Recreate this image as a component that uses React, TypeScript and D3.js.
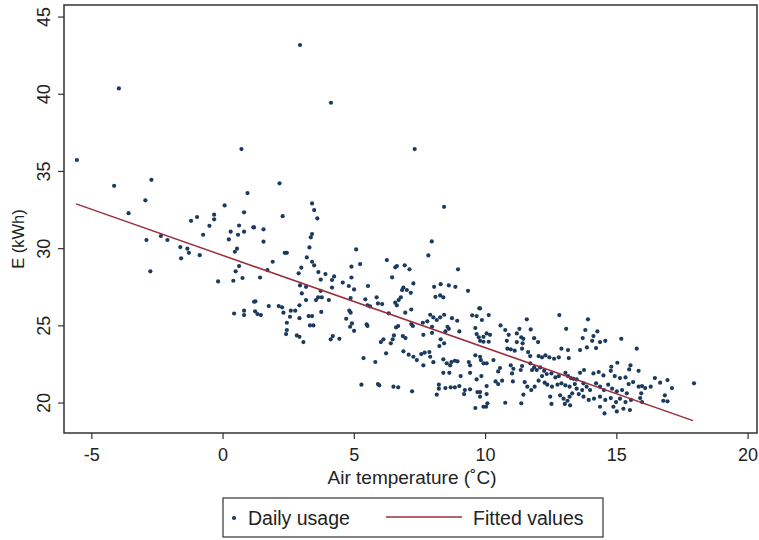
import React from "react";
import * as d3 from "d3";

// Daily usage: [air temperature (°C), E (kWh)]
const dailyUsage: [number, number][] = [
  [-3.97, 40.38], [-5.57, 35.74], [0.7, 36.45], [-4.15, 34.07], [-2.73, 34.46], [-2.96, 33.13],
  [0.93, 33.6], [-3.6, 32.3], [0.06, 32.8], [0.8, 32.35], [-0.34, 32.2], [-0.34, 31.9],
  [-0.99, 32.05], [-1.22, 31.8], [-0.52, 31.48], [0.61, 31.5], [0.29, 31.1], [0.57, 30.9],
  [0.8, 31.1], [1.15, 31.38], [-0.76, 30.9], [0.22, 30.6], [-2.92, 30.56], [-2.37, 30.82],
  [-2.12, 30.56], [-1.63, 30.1], [-1.36, 30.0], [-1.3, 29.73], [-1.6, 29.37], [-0.89, 29.58],
  [0.53, 30.0], [0.45, 29.8], [0.61, 28.87], [0.48, 28.53], [-2.77, 28.53], [-0.19, 27.88],
  [0.39, 27.92], [0.74, 28.1], [0.42, 25.8], [0.8, 25.98], [0.8, 25.7], [1.18, 26.56],
  [2.15, 34.23], [3.39, 32.93], [3.47, 32.5], [3.59, 31.96], [2.27, 32.1], [1.18, 31.38],
  [1.54, 31.25], [1.54, 30.45], [3.39, 30.95], [3.34, 30.73], [3.29, 30.08], [5.07, 29.95],
  [2.35, 29.73], [2.43, 29.73], [3.19, 29.43], [1.89, 29.15], [3.39, 29.15], [3.47, 28.92],
  [5.22, 29.0], [2.98, 28.77], [4.89, 28.83], [1.69, 28.61], [3.63, 28.48], [3.9, 28.35],
  [4.23, 28.2], [2.88, 28.4], [1.41, 28.13], [4.89, 28.13], [3.72, 28.0], [4.15, 27.97],
  [4.56, 27.8], [4.79, 27.58], [4.99, 27.36], [2.93, 27.62], [3.16, 27.53], [4.15, 27.48],
  [3.72, 27.27], [5.52, 27.58], [3.0, 27.1], [3.62, 26.85], [3.76, 26.85], [3.54, 26.67],
  [4.86, 26.8], [3.16, 26.67], [4.03, 26.67], [5.42, 26.72], [5.5, 26.33], [1.23, 26.59],
  [1.74, 26.28], [2.12, 26.28], [2.25, 26.2], [2.91, 26.33], [1.22, 25.94], [1.31, 25.76],
  [1.44, 25.7], [2.3, 25.85], [2.58, 25.98], [2.75, 25.98], [3.74, 25.9], [4.81, 25.98],
  [4.86, 25.85], [2.55, 25.59], [2.91, 25.5], [3.26, 25.63], [3.39, 25.63], [4.69, 25.46],
  [2.43, 25.2], [4.91, 25.16], [4.84, 24.94], [4.99, 24.68], [3.31, 25.03], [3.44, 25.03],
  [5.47, 25.1], [5.5, 24.99], [2.43, 24.73], [2.4, 24.47], [2.81, 24.38], [2.91, 24.29],
  [3.06, 23.95], [4.18, 24.34], [4.1, 24.13], [4.43, 24.16], [5.35, 22.91], [5.27, 21.19],
  [2.93, 43.19], [4.11, 39.45], [7.3, 36.45],
  [8.42, 32.71], [7.95, 30.47], [7.82, 29.56], [6.24, 29.26], [6.56, 28.79], [6.62, 28.87],
  [6.92, 28.92], [7.1, 28.66], [8.95, 28.66], [6.44, 28.14], [8.04, 27.53], [8.29, 27.7],
  [8.6, 27.62], [8.85, 27.53], [9.33, 27.27], [7.25, 27.75], [6.87, 27.48], [7.0, 27.32],
  [6.82, 27.32], [7.15, 27.14], [8.09, 26.88], [8.27, 26.97], [8.39, 26.85], [6.77, 26.85],
  [6.69, 26.67], [6.56, 26.5], [6.62, 26.33], [5.85, 26.85], [5.9, 26.45], [6.06, 26.41],
  [5.6, 26.26], [7.17, 26.06], [6.94, 25.85], [9.76, 26.14], [6.31, 25.81], [7.89, 25.72],
  [8.01, 25.55], [8.14, 25.38], [8.42, 25.72], [8.27, 25.55], [8.72, 25.5], [8.92, 25.33],
  [9.49, 25.68], [9.66, 25.63], [7.61, 25.2], [7.78, 25.29], [6.67, 24.99], [6.59, 24.9],
  [7.17, 25.12], [7.23, 24.99], [7.96, 24.94], [7.96, 24.55], [8.55, 24.94], [8.6, 24.81],
  [8.47, 24.64], [9.0, 24.64], [9.61, 24.86], [9.66, 24.47], [9.74, 24.26], [9.92, 24.29],
  [7.63, 24.42], [6.51, 24.38], [6.46, 24.13], [6.39, 23.87], [6.11, 24.13], [6.01, 23.95],
  [6.85, 24.34], [6.95, 24.21], [8.29, 24.13], [8.24, 23.69], [8.42, 23.87], [6.21, 23.22],
  [6.87, 23.35], [7.07, 23.13], [7.25, 23.0], [7.38, 22.78], [7.55, 23.17], [7.68, 23.26],
  [7.86, 23.3], [7.89, 23.0], [8.01, 22.65], [7.63, 22.44], [8.39, 22.83], [8.52, 22.57],
  [8.7, 22.66], [8.83, 22.74], [8.93, 22.7], [8.65, 22.44], [9.36, 22.66], [9.41, 22.44],
  [9.61, 23.09], [9.82, 22.78], [5.8, 22.66], [8.39, 21.96], [8.62, 21.96], [9.05, 21.75],
  [9.41, 21.96], [9.66, 21.53], [5.9, 21.23], [5.95, 21.15], [6.49, 21.06], [6.67, 21.02],
  [7.2, 20.76], [8.22, 21.19], [8.22, 20.93], [8.47, 20.97], [8.67, 21.02], [8.83, 21.02],
  [9.0, 21.1], [9.21, 20.84], [9.41, 20.89], [8.14, 20.54], [9.18, 20.58], [9.69, 20.71],
  [9.79, 20.41], [9.61, 19.68], [9.92, 19.76],
  [10.12, 25.7], [9.79, 26.13], [9.86, 25.38], [11.57, 25.42], [12.81, 25.7], [10.57, 25.03],
  [10.75, 24.73], [10.88, 24.42], [11.29, 24.81], [11.19, 24.51], [11.36, 24.26], [11.72, 24.77],
  [13.07, 24.81], [10.04, 24.51], [10.17, 24.42], [9.79, 24.03], [9.92, 23.97], [10.12, 23.97],
  [10.81, 24.03], [11.19, 23.95], [11.44, 24.16], [11.41, 23.87], [11.85, 24.2], [12.0, 23.95],
  [10.83, 23.52], [10.96, 23.48], [11.11, 23.39], [11.39, 23.52], [11.62, 23.3], [11.7, 23.04],
  [12.02, 23.04], [12.15, 22.96], [12.28, 23.09], [12.43, 22.96], [12.61, 22.87], [12.79, 22.96],
  [13.14, 23.43], [13.17, 22.91], [12.89, 23.52], [9.79, 23.0], [9.92, 22.57], [10.04, 22.57],
  [10.3, 22.78], [10.55, 22.27], [10.48, 22.05], [10.96, 22.44], [11.06, 22.22], [11.01, 21.92],
  [11.39, 22.4], [11.34, 22.14], [11.7, 22.57], [11.77, 22.14], [11.85, 22.31], [11.95, 22.14],
  [12.08, 22.31], [12.23, 22.09], [12.33, 21.88], [12.15, 21.75], [12.51, 21.92], [12.66, 21.66],
  [12.79, 21.75], [13.04, 21.96], [13.14, 21.75], [13.25, 21.62], [13.35, 21.57], [13.47, 21.53],
  [9.84, 21.75], [10.04, 21.1], [10.38, 21.4], [10.48, 21.23], [10.63, 21.45], [11.04, 21.4],
  [11.49, 21.36], [11.59, 21.06], [11.74, 20.84], [11.87, 21.06], [12.02, 21.45], [12.25, 21.32],
  [12.35, 21.19], [12.53, 21.06], [12.74, 21.19], [12.89, 21.28], [13.04, 21.15], [13.2, 21.06],
  [13.4, 21.23], [13.47, 20.93], [13.3, 20.63], [13.55, 20.58], [9.79, 20.71], [10.04, 20.58],
  [12.46, 20.41], [12.84, 20.5], [12.97, 20.28], [13.2, 20.41], [13.12, 20.15], [11.44, 20.54],
  [10.07, 19.98], [10.02, 19.76], [10.75, 20.02], [11.36, 19.98], [12.51, 19.94], [13.02, 19.94],
  [13.22, 19.85],
  [13.9, 25.42], [13.8, 24.73], [13.7, 24.21], [14.26, 24.64], [14.11, 24.34], [14.06, 24.03],
  [14.36, 23.95], [14.21, 23.56], [13.86, 23.6], [13.6, 23.43], [14.56, 24.03], [15.17, 24.16],
  [15.76, 23.52], [15.02, 22.61], [14.79, 22.35], [14.77, 22.09], [15.52, 22.44], [15.47, 22.18],
  [15.83, 22.09], [13.75, 22.14], [13.6, 21.96], [14.11, 21.92], [14.31, 22.01], [14.49, 21.79],
  [14.92, 21.75], [15.12, 21.62], [15.33, 21.66], [16.45, 21.62], [16.65, 21.32], [16.93, 21.49],
  [17.1, 20.97], [17.94, 21.28], [15.83, 21.06], [15.96, 21.1], [16.08, 20.97], [16.29, 21.06],
  [15.62, 21.36], [15.45, 21.23], [16.83, 20.5], [16.93, 20.11], [16.77, 20.15], [15.93, 20.63],
  [15.89, 20.32], [15.96, 20.06], [13.73, 21.28], [13.85, 21.06], [13.98, 20.84], [13.68, 20.84],
  [14.21, 21.28], [14.36, 21.06], [14.51, 20.84], [14.67, 21.19], [14.82, 20.93], [15.0, 20.76],
  [15.2, 20.84], [15.38, 20.63], [13.73, 20.41], [13.93, 20.2], [14.13, 20.28], [14.36, 20.41],
  [14.56, 20.2], [14.77, 20.32], [14.97, 20.06], [15.12, 20.28], [15.33, 20.06], [15.54, 20.2],
  [14.36, 19.76], [14.87, 19.76], [15.25, 19.63], [15.5, 19.55], [15.0, 19.46], [14.53, 19.33],
];

// Fitted values (linear fit) endpoints
const fittedValues: [number, number][] = [
  [-5.6, 32.9],
  [17.9, 18.86],
];

const xTicks = [-5, 0, 5, 10, 15, 20];
const yTicks = [20, 25, 30, 35, 40, 45];

const W = 759;
const H = 540;
const left = 64;
const right = 757;
const top = 5;
const bottom = 433;

export default function App() {
  const x = d3.scaleLinear().domain([-6.06, 20.34]).range([left, right]);
  const y = d3.scaleLinear().domain([18.06, 45.78]).range([bottom, top]);
  const line = d3
    .line<[number, number]>()
    .x((d) => x(d[0]))
    .y((d) => y(d[1]));
  const font = "'Liberation Sans', Arial, Helvetica, sans-serif";
  const axisColor = "#333";
  const pointColor = "#1b3a5e";
  const lineColor = "#9b2f3d";

  return (
    <svg
      width={W}
      height={H}
      style={{ position: "absolute", left: 0, top: 0, background: "#fff" }}
      fontFamily={font}
    >
      <rect x={0} y={0} width={W} height={H} fill="#fff" />
      {/* plot box */}
      <rect
        x={left}
        y={top}
        width={right - left}
        height={bottom - top}
        fill="#fff"
        stroke={axisColor}
        strokeWidth={1.5}
      />
      {/* points */}
      {dailyUsage.map((d, i) => (
        <circle key={i} cx={x(d[0])} cy={y(d[1])} r={2.1} fill={pointColor} />
      ))}
      {/* fitted line */}
      <path d={line(fittedValues) || ""} fill="none" stroke={lineColor} strokeWidth={1.5} />
      {/* x axis ticks */}
      {xTicks.map((t) => (
        <g key={"x" + t}>
          <line x1={x(t)} x2={x(t)} y1={bottom} y2={bottom + 6} stroke={axisColor} strokeWidth={1.2} />
          <text x={x(t)} y={461} textAnchor="middle" fontSize={18} fill="#222">
            {t}
          </text>
        </g>
      ))}
      {/* y axis ticks */}
      {yTicks.map((t) => (
        <g key={"y" + t}>
          <line x1={left - 6} x2={left} y1={y(t)} y2={y(t)} stroke={axisColor} strokeWidth={1.2} />
          <text
            transform={`translate(50,${y(t)}) rotate(-90)`}
            textAnchor="middle"
            fontSize={18}
            fill="#222"
          >
            {t}
          </text>
        </g>
      ))}
      {/* axis titles */}
      <text x={412} y={484} textAnchor="middle" fontSize={19} fill="#222">
        Air temperature (˚C)
      </text>
      <text transform="translate(24,239) rotate(-90)" textAnchor="middle" fontSize={16.5} fill="#222">
        E (kWh)
      </text>
      {/* legend */}
      <rect x={223} y={498} width={380} height={39} fill="#fff" stroke={axisColor} strokeWidth={1.2} />
      <circle cx={234} cy={518} r={2.1} fill={pointColor} />
      <text x={248} y={525} fontSize={19.5} fill="#222">
        Daily usage
      </text>
      <line x1={386} x2={462} y1={517} y2={517} stroke={lineColor} strokeWidth={1.5} />
      <text x={473} y={525} fontSize={19.5} fill="#222">
        Fitted values
      </text>
    </svg>
  );
}
